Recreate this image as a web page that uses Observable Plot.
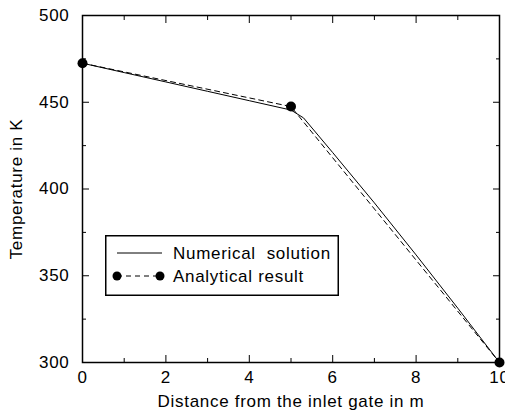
<!DOCTYPE html>
<html>
<head>
<meta charset="utf-8">
<script src="https://cdn.jsdelivr.net/npm/d3@7"></script>
<script src="https://cdn.jsdelivr.net/npm/@observablehq/plot@0.6"></script>
<style>
  html, body { margin: 0; padding: 0; background: white; }
  #wrap { position: relative; width: 505px; height: 417px; font-family: "Liberation Sans", Arial, sans-serif; }
  #legend { position: absolute; left: 105px; top: 235px; }
</style>
</head>
<body>
<div id="wrap"></div>
<script>
// Data
const numX = [0, 1, 2, 3, 4, 5, 5.3, 6, 7, 8, 9, 10];
const numY = [472.5, 467.1, 461.7, 456.3, 450.9, 445.5, 441, 421, 392, 362, 331.3, 300];
const anaX = [0, 5, 10];
const anaY = [472.5, 447.5, 300];
const xTicks = [0, 2, 4, 6, 8, 10];
const xMinor = [1, 3, 5, 7, 9];
const yTicks = [300, 350, 400, 450, 500];
const yMinor = [325, 375, 425, 475];
const seriesNames = ["Numerical  solution", "Analytical result"];

const numerical = numX.map((x, i) => ({x, y: numY[i]}));
const analytical = anaX.map((x, i) => ({x, y: anaY[i]}));

const chart = Plot.plot({
  width: 505,
  height: 417,
  marginLeft: 82,
  marginRight: 6,
  marginTop: 15,
  marginBottom: 55,
  x: {domain: [0, 10]},
  y: {domain: [300, 500]},
  style: {fontFamily: "'Liberation Sans', Arial, sans-serif", fontSize: "17px", letterSpacing: "0.7px", color: "black", background: "white"},
  marks: [
    Plot.axisX(xTicks, {anchor: "bottom", tickSize: 0, tickPadding: 8, label: "Distance from the inlet gate in m", labelAnchor: "center", labelArrow: "none", labelOffset: 44}),
    Plot.axisX(xTicks, {anchor: "bottom", tickSize: -7, fill: null, label: null}),
    Plot.axisX(xMinor, {anchor: "bottom", tickSize: -4, fill: null, label: null}),
    Plot.axisX(xTicks, {anchor: "top", tickSize: -7, fill: null, label: null}),
    Plot.axisX(xMinor, {anchor: "top", tickSize: -4, fill: null, label: null}),
    Plot.axisY(yTicks, {anchor: "left", tickSize: 0, tickPadding: 13, label: "Temperature in K", labelAnchor: "center", labelArrow: "none", labelOffset: 73}),
    Plot.axisY(yTicks, {anchor: "left", tickSize: -7, fill: null, label: null}),
    Plot.axisY(yMinor, {anchor: "left", tickSize: -4, fill: null, label: null}),
    Plot.axisY(yTicks, {anchor: "right", tickSize: -7, fill: null, label: null}),
    Plot.axisY(yMinor, {anchor: "right", tickSize: -4, fill: null, label: null}),
    Plot.frame({stroke: "black", strokeWidth: 1.5}),
    Plot.line(numerical, {x: "x", y: "y", stroke: "black", strokeWidth: 1}),
    Plot.line(analytical, {x: "x", y: "y", stroke: "black", strokeWidth: 1, strokeDasharray: "5,4"}),
    Plot.dot(analytical, {x: "x", y: "y", r: 5, fill: "black"})
  ]
});
document.getElementById("wrap").appendChild(chart);

// Legend
const lg = d3.select("#wrap").append("svg")
  .attr("id", "legend").attr("width", 235).attr("height", 62);
lg.append("rect").attr("x", 0.75).attr("y", 0.75).attr("width", 232.5).attr("height", 59.5)
  .attr("fill", "white").attr("stroke", "black").attr("stroke-width", 1.5);
lg.append("line").attr("x1", 12).attr("x2", 57).attr("y1", 18).attr("y2", 18)
  .attr("stroke", "black").attr("stroke-width", 1);
lg.append("line").attr("x1", 12).attr("x2", 55).attr("y1", 41).attr("y2", 41)
  .attr("stroke", "black").attr("stroke-width", 1).attr("stroke-dasharray", "5,4");
lg.selectAll("circle").data([12, 55]).join("circle")
  .attr("cx", d => d).attr("cy", 41).attr("r", 4.5).attr("fill", "black");
lg.selectAll("text").data(seriesNames).join("text")
  .attr("x", 68).attr("y", (d, i) => i === 0 ? 18 : 41)
  .attr("dominant-baseline", "central")
  .attr("font-family", "'Liberation Sans', Arial, sans-serif").attr("font-size", 17)
  .attr("letter-spacing", "0.7px")
  .attr("xml:space", "preserve").style("white-space", "pre")
  .text(d => d);
</script>
</body>
</html>
